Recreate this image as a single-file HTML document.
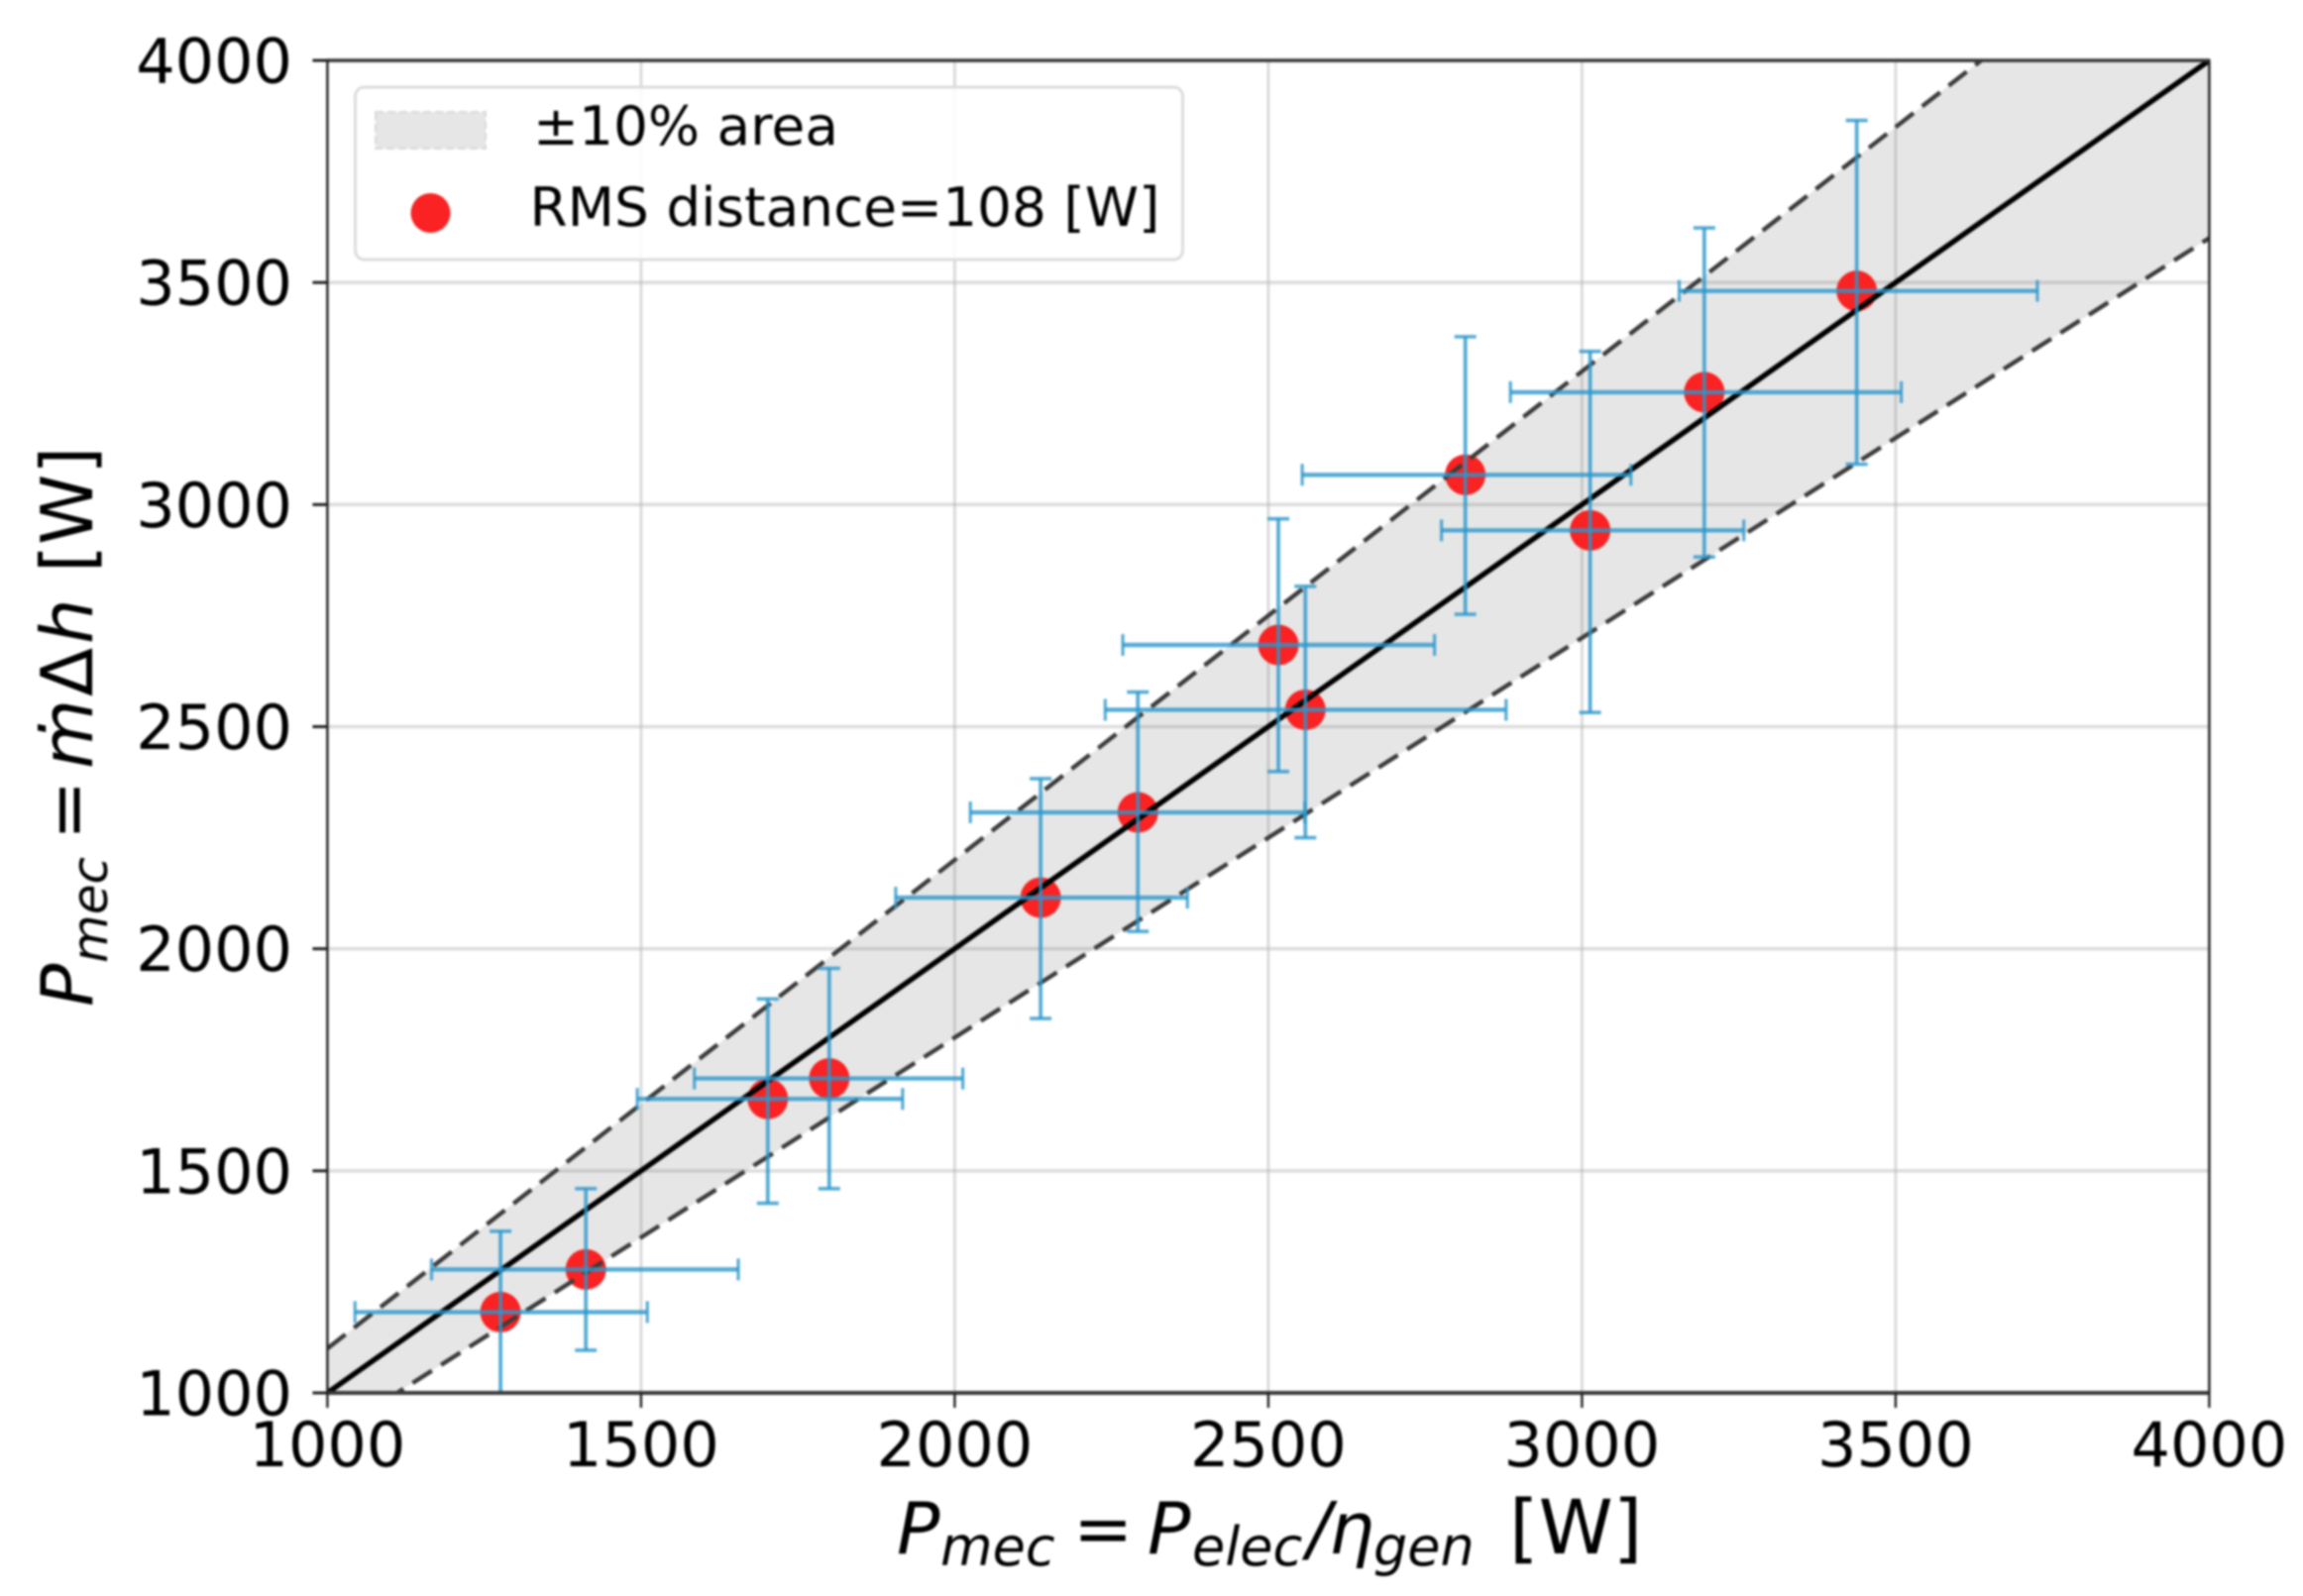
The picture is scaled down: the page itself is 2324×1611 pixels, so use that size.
<!DOCTYPE html>
<html>
<head>
<meta charset="utf-8">
<title>Mechanical power parity chart</title>
<style>
html,body{margin:0;padding:0;background:#fff;}
#chart{display:block;width:2324px;height:1611px;filter:blur(1.1px);font-family:"DejaVu Sans","Liberation Sans",sans-serif;}
.tick{font-size:62px;fill:#000;}
.leg{font-size:54px;fill:#000;}
.lab{font-size:72px;fill:#000;}
.it{font-style:italic;}
.sub{font-size:50px;font-style:italic;}
.subx{font-size:54px;font-style:italic;}
.unitx{font-size:76px;}
</style>
</head>
<body>
<svg id="chart" xmlns="http://www.w3.org/2000/svg" width="2324" height="1611" viewBox="0 0 2324 1611">
  <defs>
    <clipPath id="plot-clip"><rect x="330.4" y="61" width="1899" height="1345"></rect></clipPath>
  </defs>
  <rect x="0" y="0" width="2324" height="1611" fill="#fff"></rect>
  <g id="grid"></g>
  <g id="band" clip-path="url(#plot-clip)"></g>
  <g id="markers" clip-path="url(#plot-clip)"></g>
  <g id="lines" clip-path="url(#plot-clip)"></g>
  <g id="errors" clip-path="url(#plot-clip)"></g>
  <g id="axes"></g>

  <g>
    <rect x="358.5" y="88" width="835" height="174" rx="9" ry="9" fill="#fff" fill-opacity="0.85" stroke="#dcdcdc" stroke-width="3"></rect>
    <rect x="379" y="113" width="111" height="37" fill="#e6e6e6" stroke="#d8d8d8" stroke-width="2" stroke-dasharray="8 4"></rect>
    <text class="leg" x="538" y="146" textLength="308" lengthAdjust="spacingAndGlyphs">±10% area</text>
    <circle cx="434.5" cy="215" r="20" fill="#fa2222"></circle>
    <text class="leg" x="534.5" y="228" textLength="636" lengthAdjust="spacingAndGlyphs">RMS distance=108 [W]</text>
  </g>

  <text class="lab" y="1568"><tspan class="it" x="905">P</tspan><tspan class="subx" x="949" y="1580">mec</tspan><tspan x="1083" y="1568">=</tspan><tspan class="it" x="1158">P</tspan><tspan class="subx" x="1203" y="1580">elec</tspan><tspan class="it" x="1319" y="1568">/</tspan><tspan class="it" x="1341">η</tspan><tspan class="subx" x="1386" y="1580">gen</tspan><tspan class="unitx" x="1523" y="1568">[W]</tspan></text>

  <g transform="translate(93,0) rotate(-90)">
    <text class="lab" y="0"><tspan class="it" x="-1016">P</tspan><tspan class="sub" x="-972" y="15">mec</tspan><tspan x="-848" y="0">=</tspan><tspan class="it" x="-776">ṁ</tspan><tspan x="-703">Δ</tspan><tspan class="it" x="-650">h</tspan><tspan x="-578">[W]</tspan></text>
  </g>
</svg>
<script>
var xValues = [1276, 1412, 1702, 1800, 2137, 2292, 2516, 2559, 2814, 3013, 3195, 3438];
var yValues = [1182, 1278, 1662, 1708, 2115, 2307, 2684, 2538, 3067, 2942, 3253, 3481];
var xLow  = [1044, 1166, 1494, 1585, 1906, 2025, 2268, 2240, 2554, 2776, 2886, 3155];
var xHigh = [1510, 1655, 1917, 2013, 2371, 2558, 2765, 2879, 3078, 3258, 3509, 3726];
var yLow  = [1000, 1096, 1427, 1460, 1843, 2039, 2399, 2250, 2753, 2532, 2882, 3091];
var yHigh = [1364, 1460, 1887, 1956, 2383, 2578, 2968, 2816, 3378, 3345, 3623, 3865];
var xTicks = [1000, 1500, 2000, 2500, 3000, 3500, 4000];
var yTicks = [1000, 1500, 2000, 2500, 3000, 3500, 4000];
var axisRange = [1000, 4000];
var bandFraction = [0.1];

var NS = 'http://www.w3.org/2000/svg';
var L = 330.4, R = 2229.4, T = 61, B = 1406;
function sx(v) { return L + (v - axisRange[0]) / (axisRange[1] - axisRange[0]) * (R - L); }
function sy(v) { return B - (v - axisRange[0]) / (axisRange[1] - axisRange[0]) * (B - T); }
function mk(parent, tag, props) {
  var el = document.createElementNS(NS, tag);
  for (var k in props) { el.setAttribute(k, props[k]); }
  parent.appendChild(el);
  return el;
}
function seg(parent, x1, y1, x2, y2, stroke, width) {
  return mk(parent, 'line', {x1: x1, y1: y1, x2: x2, y2: y2, stroke: stroke, 'stroke-width': width});
}

var grid = document.getElementById('grid');
xTicks.forEach(function (v) {
  var el = seg(grid, sx(v), T, sx(v), B, '#b4b4b4', 2.8);
  el.setAttribute('stroke-opacity', '0.5');
  
  
});
yTicks.forEach(function (v) {
  var el = seg(grid, L, sy(v), R, sy(v), '#b4b4b4', 3.6);
  el.setAttribute('stroke-opacity', '0.45');
  
  
});

var f = bandFraction[0];
var lo = axisRange[0], hi = axisRange[1];
var bandEl = mk(document.getElementById('band'), 'polygon', {
  points: [sx(lo) + ',' + sy(lo * (1 + f)), sx(hi) + ',' + sy(hi * (1 + f)), sx(hi) + ',' + sy(hi * (1 - f)), sx(lo) + ',' + sy(lo * (1 - f))].join(' '),
  fill: '#808080',
  'fill-opacity': '0.2'
});



var markers = document.getElementById('markers');
xValues.forEach(function (v, i) {
  var c = mk(markers, 'circle', {cx: sx(v), cy: sy(yValues[i]), r: 20.5, fill: '#fa2222'});
  
  
});

var lines = document.getElementById('lines');
var upper = seg(lines, sx(lo), sy(lo * (1 + f)), sx(hi), sy(hi * (1 + f)), '#3c3c3c', 4.4);
upper.setAttribute('stroke-dasharray', '23 11');


var lower = seg(lines, sx(lo), sy(lo * (1 - f)), sx(hi), sy(hi * (1 - f)), '#3c3c3c', 4.4);
lower.setAttribute('stroke-dasharray', '23 11');


var identity = seg(lines, sx(lo), sy(lo), sx(hi), sy(hi), '#000', 5.4);



var errors = document.getElementById('errors');
var errColor = '#2a97cc';
xValues.forEach(function (v, i) {
  var g = mk(errors, 'g', {'stroke-opacity': '0.8'});
  
  
  var px = sx(v), py = sy(yValues[i]);
  var capX = 11, capY = 11;
  seg(g, sx(xLow[i]), py, sx(xHigh[i]), py, errColor, 4.4);
  seg(g, sx(xLow[i]), py - capY, sx(xLow[i]), py + capY, errColor, 3.2);
  seg(g, sx(xHigh[i]), py - capY, sx(xHigh[i]), py + capY, errColor, 3.2);
  seg(g, px, sy(yLow[i]), px, sy(yHigh[i]), errColor, 3.8);
  seg(g, px - capX, sy(yLow[i]), px + capX, sy(yLow[i]), errColor, 3.6);
  seg(g, px - capX, sy(yHigh[i]), px + capX, sy(yHigh[i]), errColor, 3.6);
});

var axes = document.getElementById('axes');
var spineTop = seg(axes, L - 1, T, R + 1, T, '#383838', 3.4);


var spineBottom = seg(axes, L - 1, B, R + 1, B, '#3a3a3a', 4);


var spineLeft = seg(axes, L, T, L, B, '#222', 2.4);


var spineRight = seg(axes, R, T, R, B, '#222', 2.4);



xTicks.forEach(function (v) {
  var t = seg(axes, sx(v), B, sx(v), B + 15, '#222', 2.4);
  
  
  var lab = mk(axes, 'text', {x: sx(v), y: 1480, 'text-anchor': 'middle', 'class': 'tick'});
  lab.textContent = String(v);
  
  
});
yTicks.forEach(function (v) {
  var t = seg(axes, L - 15, sy(v), L, sy(v), '#222', 3);
  
  
  var lab = mk(axes, 'text', {x: 295, y: sy(v) + 22.5, 'text-anchor': 'end', 'class': 'tick'});
  lab.textContent = String(v);
  
  
});
</script>
</body>
</html>
